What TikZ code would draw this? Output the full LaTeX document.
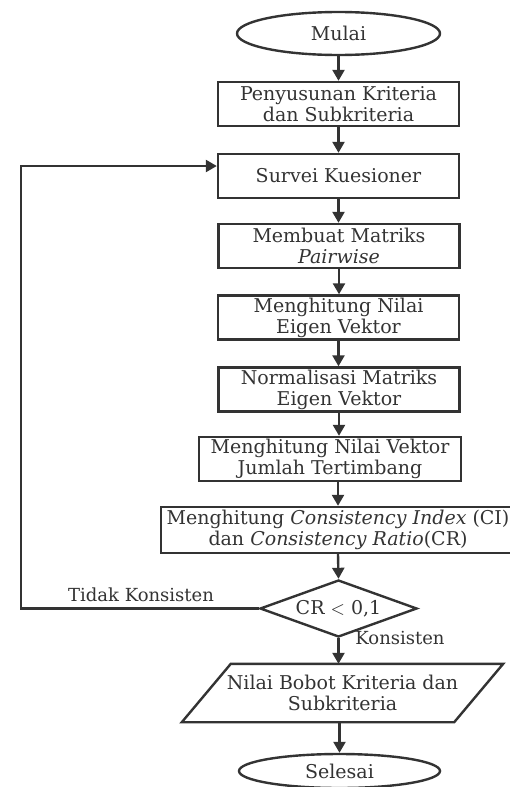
\documentclass[tikz,border=0pt]{standalone}
\usepackage{fontspec}
\setmainfont{DejaVu Serif}
\usepackage{tikz}
\usetikzlibrary{calc, shapes.geometric, arrows.meta}

\tikzset{
    garis/.style={line width=1.2pt, draw=black!80},
    kotak/.style={garis, rectangle, minimum width=120.5pt, minimum height=22pt,
        align=center, inner sep=1pt, text=black!80, font=\fontsize{9.5}{10.5}\selectfont},
    terminal/.style={kotak, ellipse, minimum width=101.5pt, minimum height=21.5pt},
    keputusan/.style={kotak, diamond, aspect=2.75, minimum width=78.5pt, minimum height=28.5pt, inner sep=0pt},
    label/.style={text=black!80, inner sep=0pt, font=\fontsize{9}{10}\selectfont}
}

\begin{document}
\begin{tikzpicture}[>={Triangle[length=5.5pt, width=6pt]}, x=0.5pt, y=-0.5pt]
    \useasboundingbox (0,0) rectangle (509,787);

    % Alur utama
    \node[terminal] (mulai) at (338.5,33.5) {Mulai};
    \node[kotak] (susun) at (338.5,104) {Penyusunan Kriteria\\dan Subkriteria};
    \node[kotak] (survei) at (338.5,176) {Survei Kuesioner};
    \node[kotak] (pairwise) at (339,246) {Membuat Matriks\\\textit{Pairwise}};
    \node[kotak] (eigen) at (338.5,317.5) {Menghitung Nilai\\Eigen Vektor};
    \node[kotak] (normal) at (339,389.5) {Normalisasi Matriks\\Eigen Vektor};
    \node[kotak, minimum width=131pt] (jumlah) at (330,459) {Menghitung Nilai Vektor\\Jumlah Tertimbang};
    \node[kotak, minimum width=177pt, minimum height=23pt] (cici) at (338,530)
        {Menghitung \textit{Consistency Index} (CI)\\dan \textit{Consistency Ratio}(CR)};
    \node[keputusan] (cek) at (338.5,608.5) {CR $<$ 0,1};
    \node[kotak, draw=none, minimum width=135pt, minimum height=28pt] (bobot) at (342.5,693)
        {Nilai Bobot Kriteria dan\\Subkriteria};
    \node[terminal, minimum width=100.5pt, minimum height=17pt] (selesai) at (339.5,771) {Selesai};

    % Jajaran genjang untuk keluaran
    \draw[garis] ([xshift=12.25pt]bobot.north west) -- ([xshift=12.25pt]bobot.north east)
        -- ([xshift=-12.25pt]bobot.south east) -- ([xshift=-12.25pt]bobot.south west) -- cycle;

    % Panah
    \draw[garis, ->] (mulai.south) -- (mulai.south |- susun.north);
    \draw[garis, ->] (susun.south) -- (susun.south |- survei.north);
    \draw[garis, ->] (survei.south) -- (survei.south |- pairwise.north);
    \draw[garis, ->] (pairwise.south) -- (pairwise.south |- eigen.north);
    \draw[garis, ->] (eigen.south) -- (eigen.south |- normal.north);
    \draw[garis, ->] (normal.south) -- (normal.south |- jumlah.north);
    \draw[garis, ->] (cici.north |- jumlah.south) -- (cici.north);
    \draw[garis, ->] (cici.south) -- (cek.north);
    \draw[garis, ->] (cek.south) -- (cek.south |- bobot.north);
    \draw[garis, ->] (selesai.north |- bobot.south) -- (selesai.north);

    % Kembali jika tidak konsisten
    \coordinate (balik) at (21,608.5);
    \draw[garis, ->] (cek.west) -- (balik) |- ([yshift=5pt]survei.west);
    \node[label] (tidak) at (141,595) {Tidak Konsisten};
    \node[label] (ya) at (400,638) {Konsisten};
\end{tikzpicture}
\end{document}
